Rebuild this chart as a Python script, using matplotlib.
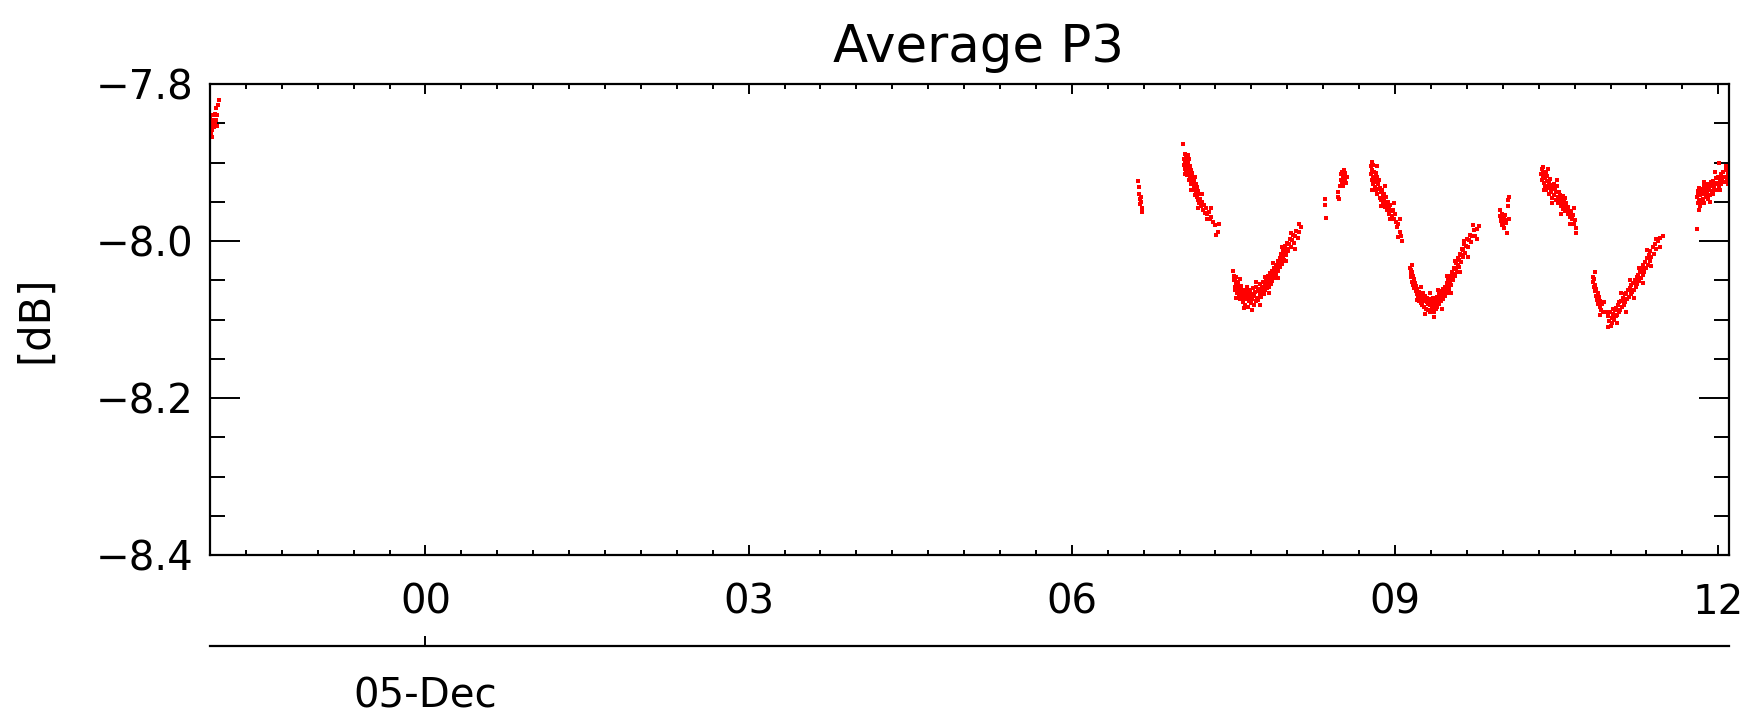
import matplotlib
matplotlib.use("Agg")
import matplotlib.pyplot as plt
from matplotlib.ticker import MultipleLocator, FixedLocator

# ---------------- data (hours relative to 00:00 05-Dec, value in dB) -------------
cluster_eve = [(-2.000, -7.848), (-2.000, -7.857), (-1.996, -7.843), (-1.992, -7.852), (-1.990, -7.863),
               (-1.986, -7.867), (-1.982, -7.846), (-1.978, -7.858), (-1.972, -7.840), (-1.968, -7.850),
               (-1.962, -7.855), (-1.958, -7.838), (-1.952, -7.851), (-1.947, -7.831), (-1.942, -7.846),
               (-1.937, -7.853), (-1.932, -7.840), (-1.926, -7.827), (-1.915, -7.820)]

cluster_0640 = [(6.618, -7.924), (6.622, -7.931), (6.626, -7.940), (6.630, -7.947), (6.634, -7.953),
                (6.638, -7.944), (6.642, -7.950), (6.648, -7.958), (6.652, -7.963)]

cluster_0700 = [(7.030, -7.877), (7.040, -7.895), (7.042, -7.903), (7.048, -7.889), (7.050, -7.898),
                (7.053, -7.908), (7.058, -7.894), (7.060, -7.902), (7.063, -7.912), (7.068, -7.897),
                (7.070, -7.905), (7.073, -7.916), (7.078, -7.900), (7.080, -7.909), (7.083, -7.922),
                (7.088, -7.896), (7.090, -7.913), (7.093, -7.920), (7.098, -7.905), (7.100, -7.917),
                (7.103, -7.928), (7.108, -7.910), (7.112, -7.921), (7.118, -7.914), (7.120, -7.926),
                (7.123, -7.935), (7.128, -7.919), (7.132, -7.930), (7.138, -7.922), (7.140, -7.934),
                (7.143, -7.941), (7.148, -7.927), (7.152, -7.938), (7.158, -7.931), (7.162, -7.944),
                (7.168, -7.936), (7.172, -7.948), (7.178, -7.940), (7.182, -7.952), (7.190, -7.946),
                (7.198, -7.956), (7.208, -7.950), (7.215, -7.960), (7.225, -7.954), (7.235, -7.964),
                (7.245, -7.958), (7.258, -7.966), (7.272, -7.963), (7.280, -7.972), (7.295, -7.969),
                (7.310, -7.976), (7.330, -7.980), (7.355, -7.988),
                (7.050, -7.915), (7.080, -7.890), (7.110, -7.935), (7.140, -7.918), (7.170, -7.958),
                (7.210, -7.940), (7.250, -7.972), (7.290, -7.958), (7.340, -7.992), (7.370, -7.978)]

trough_1 = [(7.500, -8.038), (7.503, -8.050), (7.507, -8.044), (7.510, -8.058), (7.514, -8.049),
            (7.518, -8.062), (7.522, -8.053), (7.527, -8.046), (7.531, -8.066), (7.535, -8.057),
            (7.540, -8.061), (7.545, -8.052), (7.550, -8.069), (7.555, -8.060), (7.560, -8.074),
            (7.565, -8.064), (7.570, -8.057), (7.575, -8.070), (7.580, -8.066), (7.586, -8.078),
            (7.592, -8.062), (7.598, -8.072), (7.604, -8.068), (7.610, -8.081), (7.616, -8.063),
            (7.622, -8.074), (7.628, -8.069), (7.634, -8.084), (7.640, -8.066), (7.646, -8.076),
            (7.652, -8.071), (7.658, -8.062), (7.664, -8.079), (7.670, -8.068), (7.676, -8.074),
            (7.682, -8.060), (7.688, -8.082), (7.694, -8.070), (7.700, -8.065), (7.706, -8.077),
            (7.712, -8.058), (7.718, -8.072), (7.724, -8.064), (7.730, -8.075), (7.736, -8.061),
            (7.742, -8.069), (7.748, -8.055), (7.754, -8.066), (7.760, -8.071), (7.766, -8.059),
            (7.772, -8.064), (7.778, -8.052), (7.784, -8.068), (7.790, -8.057), (7.796, -8.062),
            (7.802, -8.048), (7.808, -8.060), (7.814, -8.054), (7.820, -8.045), (7.826, -8.058),
            (7.832, -8.050), (7.838, -8.041), (7.844, -8.055), (7.850, -8.046), (7.856, -8.038),
            (7.862, -8.051), (7.868, -8.043), (7.874, -8.034), (7.880, -8.047), (7.886, -8.039),
            (7.892, -8.030), (7.898, -8.042), (7.904, -8.035), (7.910, -8.026), (7.916, -8.038),
            (7.922, -8.030), (7.928, -8.022), (7.934, -8.033), (7.940, -8.025), (7.946, -8.017),
            (7.952, -8.029), (7.958, -8.020), (7.964, -8.012), (7.970, -8.024), (7.976, -8.015),
            (7.982, -8.006), (7.988, -8.018), (7.994, -8.010), (8.000, -8.002), (8.008, -8.013),
            (8.016, -8.004), (8.024, -7.997), (8.032, -8.008), (8.040, -7.999), (8.050, -7.992),
            (8.060, -8.002), (8.070, -7.994), (8.082, -7.987), (8.095, -7.996), (8.110, -7.989),
            (8.125, -7.982),
            (7.520, -8.072), (7.560, -8.048), (7.600, -8.085), (7.630, -8.058), (7.670, -8.088),
            (7.710, -8.052), (7.750, -8.082), (7.790, -8.046), (7.830, -8.066), (7.870, -8.028),
            (7.910, -8.047), (7.950, -8.008), (7.990, -8.026), (8.030, -7.990), (8.070, -8.010),
            (8.110, -7.978)]

cluster_0820 = [(8.350, -7.947), (8.353, -7.954), (8.357, -7.971)]

cluster_0830 = [(8.470, -7.944), (8.475, -7.937), (8.480, -7.946), (8.488, -7.930), (8.495, -7.922),
                (8.500, -7.915), (8.505, -7.926), (8.510, -7.912), (8.515, -7.920), (8.520, -7.930),
                (8.525, -7.917), (8.530, -7.909), (8.535, -7.922), (8.540, -7.914), (8.548, -7.926),
                (8.555, -7.918)]

cluster_0845 = [(8.775, -7.905), (8.778, -7.915), (8.782, -7.899), (8.785, -7.922), (8.790, -7.910),
                (8.793, -7.928), (8.797, -7.903), (8.800, -7.918), (8.804, -7.925), (8.808, -7.912),
                (8.812, -7.931), (8.816, -7.920), (8.820, -7.914), (8.824, -7.935), (8.828, -7.924),
                (8.832, -7.918), (8.837, -7.940), (8.842, -7.928), (8.847, -7.934), (8.852, -7.922),
                (8.857, -7.945), (8.862, -7.932), (8.867, -7.938), (8.872, -7.948), (8.878, -7.935),
                (8.884, -7.943), (8.890, -7.952), (8.896, -7.940), (8.902, -7.947), (8.908, -7.957),
                (8.914, -7.944), (8.920, -7.952), (8.927, -7.960), (8.934, -7.950), (8.941, -7.957),
                (8.948, -7.965), (8.955, -7.954), (8.963, -7.962), (8.971, -7.968), (8.980, -7.960),
                (8.989, -7.972), (8.998, -7.966), (9.008, -7.976), (9.018, -7.982), (9.030, -7.978),
                (9.042, -7.988), (9.055, -7.993), (9.066, -8.000),
                (8.790, -7.935), (8.830, -7.905), (8.870, -7.955), (8.910, -7.930), (8.950, -7.972),
                (8.990, -7.952), (9.030, -7.995), (9.050, -7.972)]

trough_2 = [(9.140, -8.034), (9.144, -8.041), (9.148, -8.037), (9.152, -8.046), (9.156, -8.040),
            (9.160, -8.052), (9.165, -8.044), (9.170, -8.056), (9.175, -8.049), (9.180, -8.060),
            (9.185, -8.053), (9.190, -8.064), (9.196, -8.057), (9.202, -8.068), (9.208, -8.061),
            (9.214, -8.072), (9.220, -8.065), (9.226, -8.076), (9.232, -8.068), (9.238, -8.079),
            (9.244, -8.071), (9.250, -8.082), (9.256, -8.074), (9.262, -8.066), (9.268, -8.084),
            (9.274, -8.076), (9.280, -8.070), (9.286, -8.086), (9.292, -8.078), (9.298, -8.072),
            (9.304, -8.088), (9.310, -8.080), (9.316, -8.074), (9.322, -8.090), (9.328, -8.082),
            (9.334, -8.076), (9.340, -8.086), (9.346, -8.078), (9.352, -8.072), (9.358, -8.091),
            (9.364, -8.083), (9.370, -8.075), (9.376, -8.087), (9.382, -8.079), (9.388, -8.071),
            (9.394, -8.084), (9.400, -8.076), (9.406, -8.068), (9.412, -8.080), (9.418, -8.072),
            (9.424, -8.064), (9.430, -8.077), (9.436, -8.069), (9.442, -8.061), (9.448, -8.074),
            (9.454, -8.066), (9.460, -8.058), (9.466, -8.070), (9.472, -8.062), (9.478, -8.054),
            (9.484, -8.066), (9.490, -8.057), (9.496, -8.049), (9.502, -8.061), (9.508, -8.052),
            (9.514, -8.044), (9.520, -8.056), (9.526, -8.047), (9.532, -8.039), (9.538, -8.050),
            (9.544, -8.042), (9.550, -8.034), (9.556, -8.045), (9.562, -8.036), (9.568, -8.028),
            (9.574, -8.039), (9.580, -8.030), (9.586, -8.022), (9.592, -8.033), (9.598, -8.024),
            (9.604, -8.016), (9.610, -8.027), (9.616, -8.018), (9.622, -8.010), (9.628, -8.021),
            (9.635, -8.012), (9.642, -8.004), (9.650, -8.015), (9.658, -8.006), (9.666, -7.998),
            (9.675, -8.008), (9.685, -7.999), (9.695, -7.992), (9.706, -8.001), (9.718, -7.993),
            (9.730, -7.986), (9.745, -7.994), (9.760, -7.985), (9.775, -7.981),
            (9.160, -8.030), (9.200, -8.075), (9.240, -8.058), (9.280, -8.093), (9.320, -8.066),
            (9.360, -8.097), (9.400, -8.062), (9.440, -8.086), (9.480, -8.045), (9.520, -8.066),
            (9.560, -8.025), (9.600, -8.040), (9.640, -8.000), (9.680, -8.020), (9.720, -7.980),
            (9.760, -7.998)]

cluster_1000 = [(9.970, -7.960), (9.975, -7.968), (9.980, -7.975), (9.985, -7.971), (9.990, -7.980),
                (9.995, -7.966), (10.000, -7.974), (10.005, -7.978), (10.010, -7.970), (10.015, -7.983),
                (10.020, -7.973), (10.025, -7.967), (10.030, -7.977), (10.040, -7.990), (10.045, -7.956),
                (10.050, -7.948), (10.055, -7.944), (10.060, -7.972)]

cluster_1020 = [(10.357, -7.915), (10.362, -7.908), (10.366, -7.922), (10.370, -7.912), (10.374, -7.906),
                (10.378, -7.918), (10.382, -7.926), (10.386, -7.914), (10.390, -7.930), (10.395, -7.920),
                (10.400, -7.912), (10.405, -7.935), (10.410, -7.924), (10.415, -7.917), (10.420, -7.930),
                (10.425, -7.940), (10.430, -7.925), (10.436, -7.933), (10.442, -7.921), (10.448, -7.938),
                (10.454, -7.929), (10.460, -7.945), (10.466, -7.934), (10.472, -7.927), (10.478, -7.941),
                (10.484, -7.933), (10.490, -7.948), (10.496, -7.938), (10.502, -7.930), (10.508, -7.944),
                (10.514, -7.952), (10.520, -7.937), (10.526, -7.947), (10.532, -7.941), (10.538, -7.956),
                (10.544, -7.946), (10.550, -7.951), (10.556, -7.943), (10.562, -7.959), (10.568, -7.950),
                (10.574, -7.955), (10.580, -7.962), (10.587, -7.952), (10.594, -7.960), (10.601, -7.966),
                (10.608, -7.957), (10.616, -7.964), (10.624, -7.970), (10.632, -7.962), (10.640, -7.972),
                (10.650, -7.967), (10.660, -7.978), (10.668, -7.973), (10.676, -7.984), (10.682, -7.990),
                (10.380, -7.935), (10.420, -7.908), (10.460, -7.952), (10.500, -7.922), (10.540, -7.965),
                (10.580, -7.945), (10.620, -7.978), (10.660, -7.958)]

trough_3 = [(10.838, -8.046), (10.842, -8.052), (10.846, -8.058), (10.850, -8.049), (10.855, -8.064),
            (10.860, -8.056), (10.865, -8.070), (10.870, -8.061), (10.876, -8.075), (10.882, -8.066),
            (10.888, -8.080), (10.894, -8.071), (10.900, -8.084), (10.906, -8.076), (10.912, -8.088),
            (10.920, -8.080), (10.930, -8.090), (10.945, -8.091), (10.960, -8.091), (10.975, -8.096),
            (10.985, -8.102), (10.995, -8.090), (11.005, -8.108), (11.012, -8.098), (11.018, -8.104),
            (11.025, -8.093), (11.032, -8.101), (11.040, -8.088), (11.047, -8.096), (11.054, -8.085),
            (11.061, -8.094), (11.068, -8.082), (11.075, -8.090), (11.082, -8.078), (11.090, -8.088),
            (11.098, -8.076), (11.106, -8.084), (11.114, -8.072), (11.122, -8.081), (11.130, -8.068),
            (11.138, -8.078), (11.146, -8.066), (11.154, -8.074), (11.162, -8.062), (11.170, -8.071),
            (11.178, -8.060), (11.186, -8.068), (11.194, -8.056), (11.202, -8.065), (11.210, -8.053),
            (11.218, -8.062), (11.226, -8.050), (11.234, -8.058), (11.242, -8.046), (11.250, -8.055),
            (11.258, -8.043), (11.266, -8.051), (11.274, -8.039), (11.282, -8.047), (11.290, -8.035),
            (11.298, -8.043), (11.306, -8.031), (11.314, -8.039), (11.322, -8.027), (11.330, -8.034),
            (11.338, -8.022), (11.346, -8.030), (11.354, -8.018), (11.362, -8.025), (11.370, -8.013),
            (11.380, -8.020), (11.390, -8.008), (11.400, -8.016), (11.412, -8.004), (11.425, -8.010),
            (11.440, -8.000), (11.460, -7.996), (11.485, -7.993),
            (10.860, -8.040), (10.900, -8.094), (10.940, -8.078), (10.980, -8.110), (11.020, -8.086),
            (11.060, -8.104), (11.100, -8.066), (11.140, -8.090), (11.180, -8.050), (11.220, -8.072),
            (11.260, -8.034), (11.300, -8.054), (11.340, -8.012), (11.380, -8.032), (11.420, -7.998),
            (11.460, -8.008)]

cluster_1150 = [(11.800, -7.944), (11.804, -7.985), (11.808, -7.936), (11.812, -7.952), (11.816, -7.940),
                (11.820, -7.948), (11.825, -7.932), (11.830, -7.955), (11.835, -7.942), (11.840, -7.938),
                (11.845, -7.950), (11.850, -7.934), (11.855, -7.946), (11.860, -7.940), (11.866, -7.930),
                (11.872, -7.952), (11.878, -7.938), (11.884, -7.944), (11.890, -7.932), (11.896, -7.940),
                (11.902, -7.928), (11.908, -7.946), (11.914, -7.935), (11.920, -7.930), (11.926, -7.942),
                (11.932, -7.925), (11.938, -7.936), (11.944, -7.930), (11.950, -7.940), (11.956, -7.924),
                (11.962, -7.932), (11.968, -7.928), (11.975, -7.920), (11.982, -7.935), (11.990, -7.926),
                (11.998, -7.918), (12.006, -7.930), (12.010, -7.901), (12.014, -7.922), (12.022, -7.915),
                (12.030, -7.928), (12.038, -7.920), (12.046, -7.912), (12.054, -7.925), (12.062, -7.918),
                (12.070, -7.910), (12.078, -7.922), (12.086, -7.915), (12.094, -7.928), (12.102, -7.918),
                (11.820, -7.960), (11.870, -7.925), (11.920, -7.950), (11.970, -7.912), (12.020, -7.935),
                (12.070, -7.905)]

clusters = [cluster_eve, cluster_0640, cluster_0700, trough_1, cluster_0820, cluster_0830,
            cluster_0845, trough_2, cluster_1000, cluster_1020, trough_3, cluster_1150]

x_major = [0, 3, 6, 9, 12]
x_major_labels = ["00", "03", "06", "09", "12"]
y_major = [-8.4, -8.2, -8.0, -7.8]
date_tick = [0]
date_label = ["05-Dec"]
title_text = "Average P3"
ylabel_text = "[dB]"

# ---------------- figure -------------
plt.rcParams['font.family'] = ['DejaVu Sans']
fig = plt.figure(figsize=(17.55, 7.16), dpi=100)
ax = fig.add_axes([0.11966, 0.22486, 0.86553, 0.65782])

for c in clusters:
    t = [p[0] for p in c]
    v = [p[1] for p in c]
    ax.plot(t, v, linestyle='none', marker='s', markersize=2.5, markeredgewidth=0,
            color='#ff0000')

ax.set_xlim(-2.0, 12.10)
ax.set_ylim(-8.4, -7.8)

ax.xaxis.set_major_locator(FixedLocator(x_major))
ax.set_xticklabels(x_major_labels)
ax.xaxis.set_minor_locator(MultipleLocator(1.0 / 3.0))
ax.yaxis.set_major_locator(FixedLocator(y_major))
ax.set_yticklabels([f"{v:.1f}".replace('-', '\u2212') for v in y_major])
ax.yaxis.set_minor_locator(MultipleLocator(0.05))

ax.tick_params(axis='both', which='both', direction='in', top=True, right=True,
               width=1.4, color='black')
ax.tick_params(axis='x', which='major', length=7, pad=20, labelsize=29)
ax.tick_params(axis='x', which='minor', length=3.5)
ax.tick_params(axis='y', which='major', length=21.6, pad=12, labelsize=29)
ax.tick_params(axis='y', which='minor', length=11)

for s in ax.spines.values():
    s.set_linewidth(1.6)

ax.set_ylabel(ylabel_text, fontsize=30)
ax.yaxis.set_label_coords(-0.101, 0.5)

fig.text(0.5575, 0.9134, title_text, fontsize=37, ha='center', va='baseline')

# date axis below
ax2 = fig.add_axes([0.11966, 0.09777, 0.86553, 0.0005])
ax2.set_xlim(-2.0, 12.10)
ax2.set_ylim(0, 1)
ax2.patch.set_visible(False)
for k in ['top', 'left', 'right']:
    ax2.spines[k].set_visible(False)
ax2.spines['bottom'].set_linewidth(1.6)
ax2.set_yticks([])
ax2.xaxis.set_major_locator(FixedLocator(date_tick))
ax2.set_xticklabels(date_label)
ax2.tick_params(axis='x', which='major', direction='in', length=7, width=1.4, pad=22,
                labelsize=29)

fig.savefig("out.png", dpi=100)
